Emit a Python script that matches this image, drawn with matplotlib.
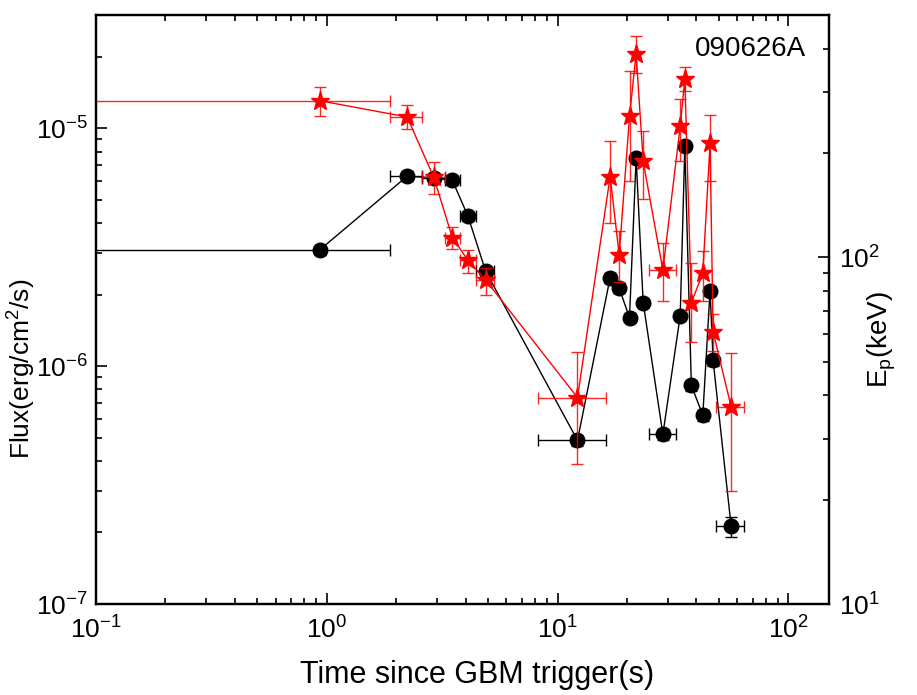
import numpy as np
import matplotlib
matplotlib.use('Agg')
import matplotlib.pyplot as plt

plt.rcParams['font.family'] = ['Liberation Sans', 'DejaVu Sans']
plt.rcParams['mathtext.fontset'] = 'custom'
plt.rcParams['mathtext.rm'] = 'Liberation Sans'

# time bins (s)
t = [0.93, 2.23, 2.91, 3.50, 4.09, 4.88, 12.2, 16.9, 18.5, 20.5,
     21.9, 23.5, 28.6, 34.0, 35.6, 38.0, 42.6, 45.8, 47.2, 56.5]
t_start = [0.0, 1.88, 2.58, 3.26, 3.76, 4.42, 8.2, np.nan, np.nan, np.nan,
           np.nan, np.nan, 24.8, np.nan, np.nan, np.nan, np.nan, np.nan, np.nan, 48.7]
t_stop = [1.88, 2.58, 3.26, 3.76, 4.42, 5.30, 16.2, np.nan, np.nan, np.nan,
          np.nan, np.nan, 32.7, np.nan, np.nan, np.nan, np.nan, np.nan, np.nan, 64.4]

# flux (erg/cm^2/s)
flux = [3.08e-6, 6.3e-6, 6.2e-6, 6.05e-6, 4.28e-6, 2.51e-6, 4.88e-7, 2.36e-6, 2.13e-6, 1.60e-6,
        7.5e-6, 1.85e-6, 5.17e-7, 1.63e-6, 8.4e-6, 8.3e-7, 6.23e-7, 2.08e-6, 1.06e-6, 2.13e-7]
flux_lo = [2.95e-6, 6.0e-6, 5.9e-6, 5.8e-6, 4.1e-6, 2.4e-6, 4.6e-7, 2.25e-6, 2.03e-6, 1.53e-6,
           7.2e-6, 1.77e-6, 4.9e-7, 1.56e-6, 8.1e-6, 7.9e-7, 5.9e-7, 1.98e-6, 1.0e-6, 1.92e-7]
flux_hi = [3.2e-6, 6.6e-6, 6.5e-6, 6.3e-6, 4.45e-6, 2.62e-6, 5.15e-7, 2.47e-6, 2.23e-6, 1.67e-6,
           7.8e-6, 1.93e-6, 5.45e-7, 1.70e-6, 8.7e-6, 8.7e-7, 6.55e-7, 2.18e-6, 1.12e-6, 2.33e-7]

# peak energy (keV)
ep = [283, 254, 170, 114, 98, 86, 39.4, 171, 101.6, 255,
      387, 189, 91.8, 239, 327, 74, 90, 213, 61, 37.1]
ep_lo = [255, 234, 152, 106, 90, 78, 25.3, 126, 84.7, 166,
         340, 147, 74.7, 190, 301, 57, 75, 166, 53.8, 21.2]
ep_hi = [311, 275, 188, 122, 105, 93, 53.5, 216, 119, 345,
         436, 232, 110, 287, 353, 96, 104, 258, 68.5, 52.9]

grb_name = '090626A'

t = np.array(t)
t_start, t_stop = np.array(t_start), np.array(t_stop)
has_x = ~np.isnan(t_start)
xerr = [t[has_x] - t_start[has_x], t_stop[has_x] - t[has_x]]
flux, flux_lo, flux_hi = map(np.array, (flux, flux_lo, flux_hi))
ep, ep_lo, ep_hi = map(np.array, (ep, ep_lo, ep_hi))

fig = plt.figure(figsize=(9.17, 6.95), dpi=100)
ax = fig.add_axes([0.1047, 0.1309, 0.7993, 0.8475])
ax.set_xscale('log')
ax.set_yscale('log')

# flux
ax.errorbar(t, flux, yerr=[flux - flux_lo, flux_hi - flux], fmt='none',
            ecolor='black', elinewidth=1, capsize=4.5, capthick=1)
ax.errorbar(t[has_x], flux[has_x], xerr=xerr, fmt='none',
            ecolor='black', elinewidth=1, capsize=4.5, capthick=1)
ax.plot(t, flux, '-o', color='black', lw=1, ms=10.5)

ax.set_xlim(0.1, 150)
ax.set_ylim(1e-7, 3e-5)
ax.set_xlabel('Time since GBM trigger(s)', fontsize=22)
ax.set_ylabel('Flux(erg/cm$^2$/s)', fontsize=19)
ax.xaxis.set_label_coords(0.52, -0.095)
ax.yaxis.set_label_coords(-0.081, 0.40)

# Ep on the right axis
ax2 = ax.twinx()
ax2.set_yscale('log')
ax2.errorbar(t, ep, yerr=[ep - ep_lo, ep_hi - ep], fmt='none',
             ecolor='red', elinewidth=1, capsize=4.5, capthick=1, alpha=0.85)
ax2.errorbar(t[has_x], ep[has_x], xerr=xerr, fmt='none',
             ecolor='red', elinewidth=1, capsize=4.5, capthick=1, alpha=0.85)
ax2.plot(t, ep, '-*', color='red', lw=1, ms=14)
ax2.set_ylim(10, 500)
ax2.set_ylabel('E$_\\mathrm{p}$(keV)', fontsize=20)
ax2.yaxis.set_label_coords(1.05, 0.45)

for a in (ax, ax2):
    a.tick_params(which='both', direction='in', labelsize=19, width=1.2)
    a.tick_params(which='major', length=8)
    a.tick_params(which='minor', length=4)
    for s in a.spines.values():
        s.set_linewidth(1.6)
ax.tick_params(axis='x', which='both', top=True, pad=9)
ax.tick_params(axis='y', which='both', right=False, pad=6)
ax2.tick_params(axis='y', which='both', pad=7)

ax.text(0.968, 0.965, grb_name, transform=ax.transAxes, ha='right', va='top', fontsize=20)

fig.savefig('out.png', dpi=100)
